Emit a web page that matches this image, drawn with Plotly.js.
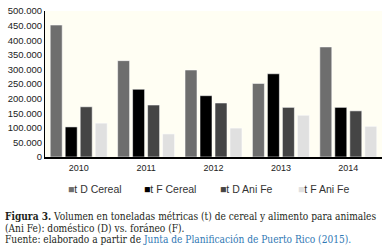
<!DOCTYPE html>
<html>
<head>
<meta charset="utf-8">
<script src="https://cdn.plot.ly/plotly-3.0.1.min.js"></script>
<style>
html,body{margin:0;padding:0;background:#fff;}
#chart{width:392px;height:251px;}
</style>
</head>
<body>
<div id="chart"></div>
<script>
const years = ['2010', '2011', '2012', '2013', '2014'];
const seriesNames = ['t D Cereal', 't F Cereal', 't D Ani Fe', 't F Ani Fe'];
const dCereal = [452000, 330000, 298000, 252000, 377000];
const fCereal = [103000, 232000, 210000, 285000, 170000];
const dAniFe = [172000, 178000, 185000, 170000, 158000];
const fAniFe = [116000, 79000, 99000, 143000, 105000];
const yTicks = [0, 50000, 100000, 150000, 200000, 250000, 300000, 350000, 400000, 450000, 500000];
const captionLine1 = '<b>Figura 3.</b> Volumen en toneladas métricas (t) de cereal y alimento para animales';
const captionLine2 = '(Ani Fe): doméstico (D) vs. foráneo (F).';
const captionLine3a = 'Fuente: elaborado a partir de ';
const captionLine3b = 'Junta de Planificación de Puerto Rico (2015).';

const colors = ['#6e6e6e', '#000000', '#454545', '#e0e0e0'];
const allValues = [dCereal, fCereal, dAniFe, fAniFe];

const data = allValues.map((vals, i) => ({
  type: 'bar',
  x: years,
  y: vals,
  name: seriesNames[i],
  marker: {color: colors[i], line: {color: 'rgba(255,255,255,0.55)', width: 1}},
  hoverinfo: 'none'
}));

// plot area geometry in pixels (used only to place the key and caption)
const L = 45, W = 337, B = 157, H = 146;
const px = v => (v - L) / W;
const py = v => (B - v) / H;

const legendX = [66, 142, 218, 296];
const legendAnn = seriesNames.map((n, i) => ({
  xref: 'paper', yref: 'paper', x: px(legendX[i]), y: py(189),
  xanchor: 'left', yanchor: 'middle', showarrow: false,
  text: '<span style="color:' + colors[i] + '">■</span>' + n,
  font: {family: 'Liberation Sans, Arial, sans-serif', size: 10.5, color: '#333'}
}));

const capFont = {family: 'DejaVu Serif Condensed, DejaVu Serif, serif', size: 10.1, color: '#231f20'};
const capAnn = [
  {text: captionLine1, y: 216.5},
  {text: captionLine2, y: 228},
  {text: captionLine3a + '<span style="color:#2f78b4">' + captionLine3b + '</span>', y: 239.5}
].map(c => ({
  xref: 'paper', yref: 'paper', x: px(3), y: py(c.y), xanchor: 'left', yanchor: 'middle',
  showarrow: false, text: c.text, align: 'left', font: capFont
}));

const layout = {
  width: 392,
  height: 251,
  margin: {l: L, r: 392 - L - W, t: B - H, b: 251 - B},
  paper_bgcolor: '#ffffff',
  plot_bgcolor: '#fffef3',
  separators: ',.',
  font: {family: 'Liberation Sans, Arial, sans-serif', color: '#222', size: 10},
  barmode: 'group',
  bargap: 0.11,
  bargroupgap: 0.2,
  showlegend: false,
  xaxis: {
    type: 'category',
    showline: true, linecolor: '#000', linewidth: 1.5,
    ticks: '', showgrid: false, zeroline: false,
    ticklabelstandoff: 2,
    tickfont: {size: 9, color: '#222'}
  },
  yaxis: {
    range: [0, 500000],
    tickvals: yTicks,
    tickformat: ',d',
    showline: true, linecolor: '#000', linewidth: 1,
    ticks: '', showgrid: false, zeroline: false,
    tickfont: {size: 9.5, color: '#222'}
  },
  annotations: legendAnn.concat(capAnn)
};

Plotly.newPlot('chart', data, layout, {displayModeBar: false, staticPlot: true});
</script>
</body>
</html>
